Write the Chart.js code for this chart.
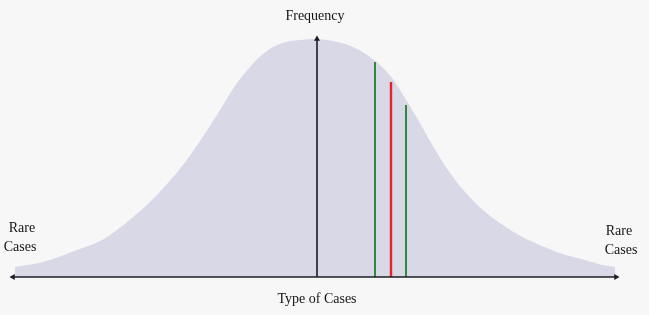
<!DOCTYPE html>
<html>
<head>
<meta charset="utf-8">
<script src="https://cdn.jsdelivr.net/npm/chart.js@4"></script>
<style>
  html, body { margin: 0; padding: 0; background: #f7f7f7; }
  #wrap { width: 649px; height: 315px; }
</style>
</head>
<body>
<div id="wrap"><canvas id="c" width="649" height="315"></canvas></div>
<script>
// Bell curve outline (position along "Type of Cases", frequency)
const curveX = [0, 28, 62, 85, 102, 118, 135, 152, 168, 185, 202, 218, 235, 252, 268, 285, 302, 322, 338, 355, 372, 385, 402, 418, 435, 452, 468, 485, 502, 518, 545, 570, 588, 600];
const curveY = [10, 15, 27, 36, 47, 60, 75, 93, 112, 136, 162, 188, 210, 226, 234, 237, 238, 235, 230, 220, 205, 187, 159, 131, 104, 83, 67, 54, 43, 35, 24, 17, 12, 10];

// Mean arrow
const meanX = 302;
const meanTop = 238;

// Marker lines
const markerX = [360, 376, 391];
const markerH = [215, 195, 172];
const markerColors = ['#2f8a3c', '#e8222c', '#2f8a3c'];

// Axis extent
const axisMin = -2;
const axisMax = 601;

// Labels
const labelTop = 'Frequency';
const labelBottom = 'Type of Cases';
const labelSide = ['Rare', 'Cases'];

const datasets = [];
datasets.push({
  label: 'curve',
  data: curveX.map((x, i) => ({ x: x, y: curveY[i] })),
  borderColor: 'rgba(0,0,0,0)',
  borderWidth: 0,
  backgroundColor: '#d8d8e7',
  fill: 'origin',
  pointRadius: 0,
  tension: 0.4,
  order: 10
});
markerX.forEach((x, i) => {
  datasets.push({
    label: 'marker' + i,
    data: [{ x: x, y: 0 }, { x: x, y: markerH[i] }],
    borderColor: markerColors[i],
    borderWidth: i === 1 ? 2.4 : 2,
    pointRadius: 0,
    fill: false,
    order: 2
  });
});
datasets.push({
  label: 'meanArrow',
  data: [{ x: meanX, y: 0 }, { x: meanX, y: meanTop }],
  borderColor: '#1c1c24',
  borderWidth: 1.6,
  pointStyle: 'triangle',
  pointRadius: [0, 3.5],
  pointBackgroundColor: '#1c1c24',
  pointBorderColor: '#1c1c24',
  pointBorderWidth: 0,
  fill: false,
  clip: false,
  order: 1
});
datasets.push({
  label: 'xAxis',
  data: [{ x: axisMin, y: 0 }, { x: axisMax, y: 0 }],
  borderColor: '#1c1c24',
  borderWidth: 1.6,
  pointStyle: 'triangle',
  pointRadius: [3.5, 3.5],
  pointRotation: [270, 90],
  pointBackgroundColor: '#1c1c24',
  pointBorderColor: '#1c1c24',
  pointBorderWidth: 0,
  fill: false,
  clip: false,
  order: 0
});

const textPlugin = {
  id: 'texts',
  afterDraw(chart) {
    const ctx = chart.ctx;
    const xs = chart.scales.x, ys = chart.scales.y;
    ctx.save();
    ctx.fillStyle = '#141414';
    ctx.font = '14px "Liberation Serif", "DejaVu Serif", serif';
    ctx.textAlign = 'center';
    ctx.textBaseline = 'alphabetic';
    const base = ys.getPixelForValue(0);
    ctx.fillText(labelTop, xs.getPixelForValue(meanX) - 2, 20);
    ctx.fillText(labelBottom, xs.getPixelForValue(meanX), base + 26);
    ctx.fillText(labelSide[0], 22, 232);
    ctx.fillText(labelSide[1], 20, 251);
    ctx.fillText(labelSide[0], 619, 235);
    ctx.fillText(labelSide[1], 621, 254);
    ctx.restore();
  }
};

new Chart(document.getElementById('c'), {
  type: 'line',
  data: { datasets: datasets },
  options: {
    responsive: false,
    animation: false,
    events: [],
    layout: { padding: { left: 15, right: 34, top: 37, bottom: 38 } },
    plugins: { legend: { display: false }, tooltip: { enabled: false }, title: { display: false } },
    scales: {
      x: { type: 'linear', min: 0, max: 600, display: false },
      y: { type: 'linear', min: 0, max: 240, display: false }
    }
  },
  plugins: [textPlugin]
});
</script>
</body>
</html>
